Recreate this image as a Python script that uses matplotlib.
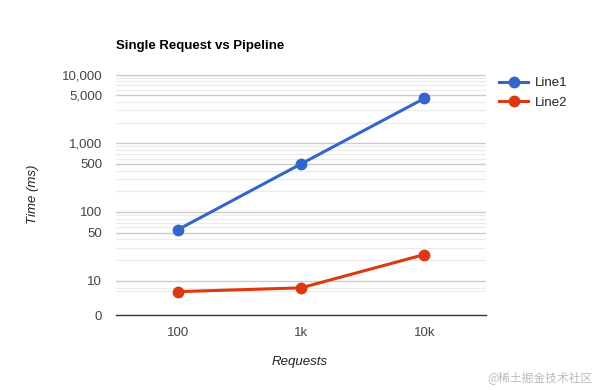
import numpy as np
import matplotlib
matplotlib.use("Agg")
import matplotlib.pyplot as plt

categories = ["100", "1k", "10k"]
line1 = [55, 500, 4500]
line2 = [6.8, 7.9, 24]
series_names = ["Line1", "Line2"]
ytick_values = [0, 10, 50, 100, 500, 1000, 5000, 10000]
ytick_labels = ["0", "10", "50", "100", "500", "1,000", "5,000", "10,000"]
minor_values = [7, 8] + [m * d for d in (10, 100, 1000) for m in (2, 3, 4, 6, 7, 8, 9)]

plt.rcParams['font.family'] = ['Liberation Sans', 'DejaVu Sans']


def forward(y):
    y = np.asarray(y, dtype=float)
    with np.errstate(divide='ignore', invalid='ignore'):
        lg = np.log10(np.maximum(y, 1e-9))
    return np.where(y >= 10, lg, 0.5 + 0.05 * y)


def inverse(f):
    f = np.asarray(f, dtype=float)
    return np.where(f >= 1, 10 ** f, (f - 0.5) / 0.05)


fig = plt.figure(figsize=(6, 3.9), dpi=100)
ax = fig.add_axes([116 / 600, 1 - 315 / 390, 370 / 600, 243 / 390])
ax.set_yscale('function', functions=(forward, inverse))

x = np.arange(len(categories))
blue = "#3366CC"
red = "#DC3912"
ax.plot(x, line1, color=blue, lw=2.2, marker='o', ms=7.5, label=series_names[0], zorder=3)
ax.plot(x, line2, color=red, lw=2.2, marker='o', ms=7.5, label=series_names[1], zorder=3)

ax.set_xlim(-0.5, len(categories) - 0.5)
ax.set_ylim(0, 10900)

for v in minor_values:
    ax.axhline(v, color="#ebebeb", lw=0.9, zorder=1)
for v in ytick_values[1:]:
    ax.axhline(v, color="#cccccc", lw=1.0, zorder=1)

ax.set_yticks(ytick_values)
ax.set_yticklabels(ytick_labels)
ax.yaxis.set_minor_locator(matplotlib.ticker.NullLocator())
ax.set_xticks(x)
ax.set_xticklabels(categories)
ax.tick_params(axis='both', length=0, labelsize=9.5, labelcolor="#444444")
ax.tick_params(axis='y', pad=10)
ax.tick_params(axis='x', pad=9)

for s in ("top", "right", "left"):
    ax.spines[s].set_visible(False)
ax.spines["bottom"].set_color("#333333")
ax.spines["bottom"].set_linewidth(1.0)
ax.spines["bottom"].set_zorder(4)

fig.text(116 / 600, 1 - 46 / 390, "Single Request vs Pipeline", fontsize=9.5,
         fontweight='bold', color="#000000", va='center', ha='left')
fig.text(33 / 600, 1 - 194 / 390, "Time (ms)", fontsize=9.5, style='italic',
         color="#222222", rotation=90, va='center', ha='center')
fig.text(300 / 600, 1 - 362 / 390, "Requests", fontsize=9.5, style='italic',
         color="#222222", va='center', ha='center')

leg = ax.legend(loc='upper left', bbox_to_anchor=(499 / 600, 1 - 77 / 390),
                bbox_transform=fig.transFigure, frameon=False, fontsize=9.5,
                handlelength=2.2, handletextpad=0.5, labelspacing=0.55,
                borderaxespad=0, borderpad=0)
for t in leg.get_texts():
    t.set_color("#222222")

fig.text(592 / 600, 1 - 378 / 390, "@稀土掘金技术社区", fontsize=8.5,
         color="#bbbbbb", ha='right', va='center',
         family=['Noto Sans CJK SC', 'DejaVu Sans'])

fig.savefig("out.png", dpi=100)
